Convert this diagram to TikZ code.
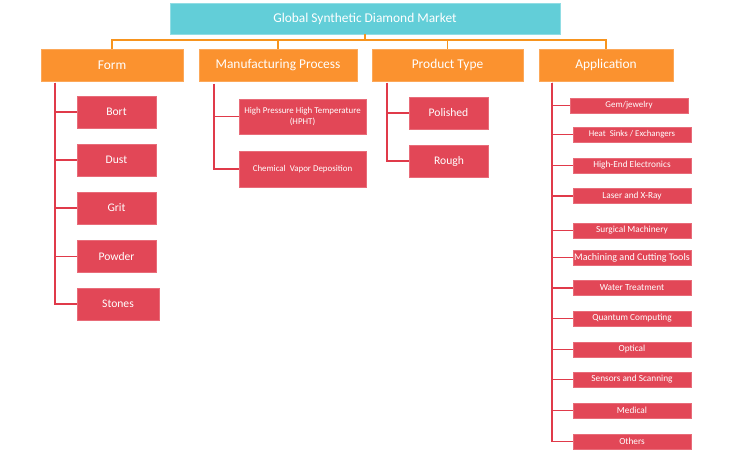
\documentclass[tikz,border=0pt]{standalone}
\usepackage{fontspec}
\setmainfont{Carlito}
\definecolor{cyanbox}{HTML}{62CED8}
\definecolor{orangebox}{HTML}{FB922F}
\definecolor{orangeline}{HTML}{F7941E}
\definecolor{redbox}{HTML}{E24757}
\definecolor{redline}{HTML}{E03A4A}
\begin{document}
\begin{tikzpicture}[x=1pt,y=-1pt,
  topbox/.style={fill=cyanbox,draw=cyanbox!70!white,line width=0.6pt,text=white,inner sep=0pt,font=\fontsize{13.4}{15}\selectfont},
  catbox/.style={fill=orangebox,draw=orangebox!80!white,line width=0.6pt,text=white,inner sep=0pt,minimum height=32pt,font=\fontsize{13.4}{15}\selectfont},
  subbox/.style={fill=redbox,draw=redbox!80!white,line width=0.6pt,text=white,inner sep=0pt,font=\fontsize{11.6}{13}\selectfont},
  smallbox/.style={subbox,font=\fontsize{8.9}{10.5}\selectfont,align=center},
  appbox/.style={subbox,minimum width=118pt,minimum height=15pt,font=\fontsize{9.3}{10}\selectfont},
  orangeconn/.style={draw=orangeline,line width=1.6pt},
  redconn/.style={draw=redline,line width=1.6pt}]
\useasboundingbox (0,0) rectangle (732,452);
\fill[white] (0,0) rectangle (732,452);
% top
\node[topbox,minimum width=390pt,minimum height=31pt] (top) at (365,18.5) {Global Synthetic Diamond Market};
% categories
\node[catbox,minimum width=142pt] (form) at (112,65) {Form};
\node[catbox,minimum width=158pt] (manu) at (278,65) {Manufacturing Process};
\node[catbox,minimum width=151pt] (prod) at (447.5,65) {Product Type};
\node[catbox,minimum width=134pt] (appl) at (606,65) {Application};
\coordinate (bus) at (0,40);
\draw[orangeconn] (top.south) -- (top.south |- bus);
\draw[orangeconn] (form.north) -- (form.north |- bus) -| (appl.north);
\draw[orangeconn] (manu.north) -- (manu.north |- bus);
\draw[orangeconn] (prod.north) -- (prod.north |- bus);
% Form children
\node[subbox,minimum width=79pt,minimum height=32pt] (bort) at (116.5,112) {Bort};
\node[subbox,minimum width=79pt,minimum height=32pt] (dust) at (116.5,160) {Dust};
\node[subbox,minimum width=79pt,minimum height=32pt] (grit) at (116.5,208) {Grit};
\node[subbox,minimum width=79pt,minimum height=32pt] (powder) at (116.5,256.5) {Powder};
\node[subbox,minimum width=82pt,minimum height=32pt] (stones) at (118,304) {Stones};
\coordinate (fx) at (55,83);
\foreach \n in {bort,dust,grit,powder,stones}{\draw[redconn] (fx) |- (\n.west);}
% Manufacturing children
\node[smallbox,minimum width=127pt,minimum height=35pt] (hpht) at (302.5,116.5) {High Pressure High Temperature\\(HPHT)};
\node[smallbox,minimum width=127pt,minimum height=36pt] (cvd) at (302.5,169) {Chemical~~Vapor Deposition};
\coordinate (mx) at (214,84);
\foreach \n in {hpht,cvd}{\draw[redconn] (mx) |- (\n.west);}
% Product children
\node[subbox,minimum width=79pt,minimum height=32pt] (pol) at (448.5,113) {Polished};
\node[subbox,minimum width=79pt,minimum height=32pt] (rough) at (449,161) {Rough};
\coordinate (px) at (387,83);
\foreach \n in {pol,rough}{\draw[redconn] (px) |- (\n.west);}
% Application children
\node[appbox,font=\fontsize{8.9}{10}\selectfont] (a1) at (629,105.5) {Gem/jewelry};
\node[appbox,font=\fontsize{8.8}{10}\selectfont] (a2) at (632,134.5) {\raisebox{-1.5pt}{Heat~~Sinks / Exchangers}};
\node[appbox] (a3) at (632,165.5) {High-End Electronics};
\node[appbox] (a4) at (632,196) {Laser and X-Ray};
\node[appbox] (a5) at (632,230.5) {Surgical Machinery};
\node[appbox,font=\fontsize{10.1}{11}\selectfont] (a6) at (632,257.5) {Machining and Cutting Tools};
\node[appbox] (a7) at (632,288) {Water Treatment};
\node[appbox] (a8) at (632,318.5) {Quantum Computing};
\node[appbox] (a9) at (632,349.5) {Optical};
\node[appbox] (a10) at (632,379.5) {Sensors and Scanning};
\node[appbox] (a11) at (632,410.5) {Medical};
\node[appbox] (a12) at (632,441.5) {Others};
\coordinate (ax) at (552,83);
\foreach \n in {a1,a2,a3,a4,a5,a6,a7,a8,a9,a10,a11,a12}{\draw[redconn] (ax) |- (\n.west);}
\end{tikzpicture}
\end{document}
